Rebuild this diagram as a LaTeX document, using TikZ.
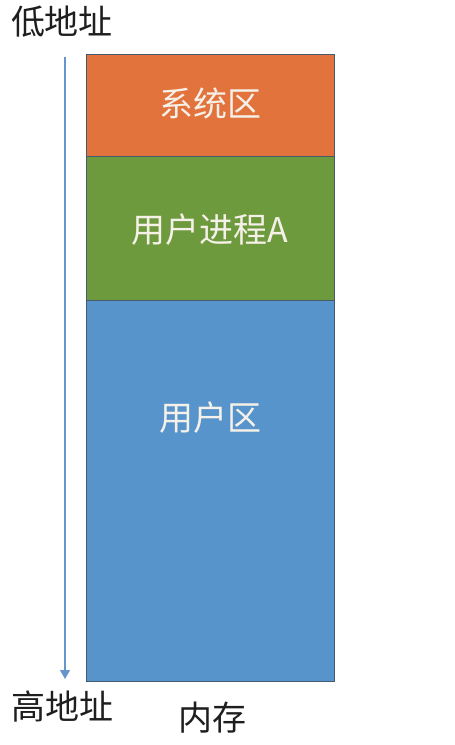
\documentclass[tikz,border=0pt]{standalone}
\usepackage{fontspec}
\newfontfamily\cjk{Noto Sans CJK SC}
\usetikzlibrary{arrows.meta}
\definecolor{orgfill}{RGB}{226,115,60}
\definecolor{grnfill}{RGB}{110,154,62}
\definecolor{blufill}{RGB}{88,148,204}
\definecolor{edgecol}{RGB}{70,90,110}
\definecolor{arrcol}{RGB}{100,150,205}
\definecolor{boxtxt}{RGB}{245,240,232}
\definecolor{lbltxt}{RGB}{30,30,30}
\tikzset{
  membox/.style={draw=edgecol, line width=0.8pt, minimum width=248pt, inner sep=0pt, anchor=north west},
  boxlbl/.style={font=\cjk\fontsize{34}{38}\selectfont, text=boxtxt, inner sep=0pt},
  sidelbl/.style={font=\cjk\fontsize{34}{38}\selectfont, text=lbltxt, inner sep=0pt}
}
\begin{document}
\begin{tikzpicture}[x=1pt,y=-1pt]
\useasboundingbox (0,0) rectangle (455,745);
\node[membox, fill=orgfill, minimum height=102pt] (sys) at (86,54) {};
\node[membox, fill=grnfill, minimum height=144pt] (proc) at (86,156) {};
\node[membox, fill=blufill, minimum height=381pt] (user) at (86,300) {};
\node[boxlbl] (syst) at (210,103) {系统区};
\node[boxlbl] (proct) at (210,230) {用户进程A};
\node[boxlbl] (usert) at (210,418) {用户区};
\node[sidelbl] (low) at (62,22) {低地址};
\node[sidelbl] (high) at (63,707) {高地址};
\node[sidelbl] (mem) at (212,718) {内存};
\coordinate (a1) at (65,57);
\coordinate (a2) at (65,679);
\draw[arrcol, line width=1.2pt, -{Triangle[length=9pt,width=10pt]}] (a1) -- (a2);
\end{tikzpicture}
\end{document}
